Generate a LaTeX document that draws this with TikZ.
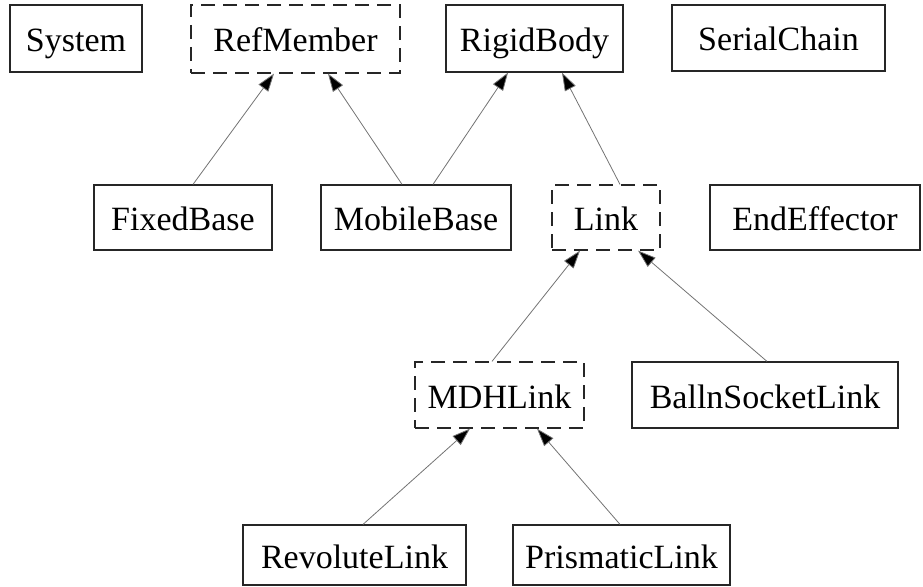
\documentclass[tikz,border=0pt]{standalone}
\usepackage{fontspec}
\setmainfont{Liberation Serif}
\usetikzlibrary{arrows.meta}
\begin{document}
\begin{tikzpicture}[x=1pt,y=-1pt,
  cls/.style={draw=black!85,line width=1.2pt,inner sep=0pt,font=\fontsize{34}{40}\selectfont,text height=26pt,text depth=0pt},
  abs/.style={cls,dash pattern=on 14pt off 8pt},
  inh/.style={draw=black!55,line width=0.8pt,-{Triangle[length=18pt,width=12pt,fill=black]}}]
\useasboundingbox (0,0) rectangle (923,586);
\node[cls,minimum width=132pt,minimum height=67pt] (sys) at (76,38.5) {System};
\node[abs,minimum width=209pt,minimum height=68pt] (ref) at (295.5,39) {RefMember};
\node[cls,minimum width=177pt,minimum height=67pt] (rigid) at (534.5,38.5) {RigidBody};
\node[cls,minimum width=213pt,minimum height=66pt] (serial) at (778.5,38) {SerialChain};
\node[cls,minimum width=178pt,minimum height=65pt] (fixed) at (183,217.5) {FixedBase};
\node[cls,minimum width=190pt,minimum height=65pt] (mobile) at (416,217.5) {MobileBase};
\node[abs,minimum width=108pt,minimum height=65pt] (link) at (606,217.5) {Link};
\node[cls,minimum width=210pt,minimum height=65pt] (endeff) at (815,217.5) {EndEffector};
\node[abs,minimum width=169pt,minimum height=66pt] (mdh) at (499.5,395) {MDHLink};
\node[cls,minimum width=266pt,minimum height=66pt] (ball) at (765,395) {BallnSocketLink};
\node[cls,minimum width=223pt,minimum height=60pt] (rev) at (354.5,555) {RevoluteLink};
\node[cls,minimum width=217pt,minimum height=60pt] (pris) at (621.5,555) {PrismaticLink};
\draw[inh] ([xshift=10pt]fixed.north) -- ([xshift=-21.5pt]ref.south);
\draw[inh] ([xshift=-14pt]mobile.north) -- ([xshift=32.5pt]ref.south);
\draw[inh] ([xshift=17pt]mobile.north) -- ([xshift=-26.5pt]rigid.south);
\draw[inh] ([xshift=14pt]link.north) -- ([xshift=27.5pt]rigid.south);
\draw[inh] ([xshift=-7.5pt]mdh.north) -- ([xshift=-26pt]link.south);
\draw[inh] ([xshift=2pt]ball.north) -- ([xshift=32pt]link.south);
\draw[inh] ([xshift=8.5pt]rev.north) -- ([xshift=-29.5pt]mdh.south);
\draw[inh] ([xshift=-1.5pt]pris.north) -- ([xshift=37.5pt]mdh.south);
\end{tikzpicture}
\end{document}
